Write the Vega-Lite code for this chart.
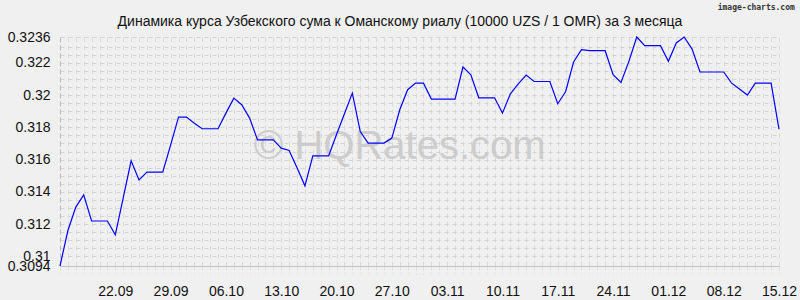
{
  "$schema": "https://vega.github.io/schema/vega-lite/v6.json",
  "autosize": "none",
  "width": 719,
  "height": 229,
  "padding": {"left": 60, "top": 37, "right": 21, "bottom": 34},
  "background": "#f0f0f0",
  "config": {
    "view": {"stroke": null},
    "font": "Liberation Sans"
  },
  "title": {
    "text": "Динамика курса Узбекского сума к Оманскому риалу (10000 UZS / 1 OMR) за 3 месяца",
    "anchor": "middle",
    "frame": "group",
    "baseline": "alphabetic",
    "offset": -36,
    "dx": -19.5,
    "font": "Liberation Sans",
    "fontSize": 14,
    "fontWeight": "normal",
    "color": "#111"
  },
  "resolve": {"axis": {"x": "independent", "y": "independent"}},
  "layer": [
    {
      "data": {"values": [{"label": "© HQRates.com"}]},
      "mark": {"type": "text", "font": "Liberation Sans", "fontSize": 40, "color": "#c8c8c8", "opacity": 0.85, "align": "center", "baseline": "middle"},
      "encoding": {
        "text": {"field": "label"},
        "x": {"datum": {"year": 2025, "month": 10, "date": 28, "utc": true}, "type": "temporal", "scale": {"type": "utc", "domain": [{"year": 2025, "month": 9, "date": 15, "utc": true}, {"year": 2025, "month": 12, "date": 15, "utc": true}]}, "axis": null},
        "y": {"datum": 0.3168, "type": "quantitative", "scale": {"domain": [0.3094, 0.3236], "nice": false, "zero": false}, "axis": null}
      }
    },
    {
      "data": {"values": [{"label": "image-charts.com"}]},
      "mark": {"type": "text", "font": "DejaVu Sans Mono", "fontSize": 8, "fontWeight": "bold", "color": "#333", "align": "right", "baseline": "middle"},
      "encoding": {
        "text": {"field": "label"},
        "x": {"datum": {"year": 2025, "month": 12, "date": 17, "utc": true}, "type": "temporal", "scale": {"type": "utc", "domain": [{"year": 2025, "month": 9, "date": 15, "utc": true}, {"year": 2025, "month": 12, "date": 15, "utc": true}]}, "axis": null},
        "y": {"datum": 0.32542, "type": "quantitative", "scale": {"domain": [0.3094, 0.3236], "nice": false, "zero": false}, "axis": null}
      }
    },
    {
      "data": {"values": [
        {"date": "2025-09-15", "rate": 0.3094},
        {"date": "2025-09-16", "rate": 0.3116},
        {"date": "2025-09-17", "rate": 0.31305},
        {"date": "2025-09-18", "rate": 0.31381},
        {"date": "2025-09-19", "rate": 0.31219},
        {"date": "2025-09-20", "rate": 0.31219},
        {"date": "2025-09-21", "rate": 0.31219},
        {"date": "2025-09-22", "rate": 0.31133},
        {"date": "2025-09-23", "rate": 0.31362},
        {"date": "2025-09-24", "rate": 0.31592},
        {"date": "2025-09-25", "rate": 0.31474},
        {"date": "2025-09-26", "rate": 0.31522},
        {"date": "2025-09-27", "rate": 0.31522},
        {"date": "2025-09-28", "rate": 0.31522},
        {"date": "2025-09-29", "rate": 0.3169},
        {"date": "2025-09-30", "rate": 0.31863},
        {"date": "2025-10-01", "rate": 0.31863},
        {"date": "2025-10-02", "rate": 0.31825},
        {"date": "2025-10-03", "rate": 0.31791},
        {"date": "2025-10-04", "rate": 0.31791},
        {"date": "2025-10-05", "rate": 0.31791},
        {"date": "2025-10-06", "rate": 0.31888},
        {"date": "2025-10-07", "rate": 0.31981},
        {"date": "2025-10-08", "rate": 0.3194},
        {"date": "2025-10-09", "rate": 0.31857},
        {"date": "2025-10-10", "rate": 0.31722},
        {"date": "2025-10-11", "rate": 0.31722},
        {"date": "2025-10-12", "rate": 0.31722},
        {"date": "2025-10-13", "rate": 0.31671},
        {"date": "2025-10-14", "rate": 0.31656},
        {"date": "2025-10-15", "rate": 0.31549},
        {"date": "2025-10-16", "rate": 0.31437},
        {"date": "2025-10-17", "rate": 0.31623},
        {"date": "2025-10-18", "rate": 0.31623},
        {"date": "2025-10-19", "rate": 0.31623},
        {"date": "2025-10-20", "rate": 0.31755},
        {"date": "2025-10-21", "rate": 0.31884},
        {"date": "2025-10-22", "rate": 0.32012},
        {"date": "2025-10-23", "rate": 0.31774},
        {"date": "2025-10-24", "rate": 0.31702},
        {"date": "2025-10-25", "rate": 0.31702},
        {"date": "2025-10-26", "rate": 0.31702},
        {"date": "2025-10-27", "rate": 0.31733},
        {"date": "2025-10-28", "rate": 0.31909},
        {"date": "2025-10-29", "rate": 0.32033},
        {"date": "2025-10-30", "rate": 0.32074},
        {"date": "2025-10-31", "rate": 0.32074},
        {"date": "2025-11-01", "rate": 0.31975},
        {"date": "2025-11-02", "rate": 0.31975},
        {"date": "2025-11-03", "rate": 0.31975},
        {"date": "2025-11-04", "rate": 0.31975},
        {"date": "2025-11-05", "rate": 0.32174},
        {"date": "2025-11-06", "rate": 0.32126},
        {"date": "2025-11-07", "rate": 0.31983},
        {"date": "2025-11-08", "rate": 0.31983},
        {"date": "2025-11-09", "rate": 0.31983},
        {"date": "2025-11-10", "rate": 0.31888},
        {"date": "2025-11-11", "rate": 0.32008},
        {"date": "2025-11-12", "rate": 0.3207},
        {"date": "2025-11-13", "rate": 0.32124},
        {"date": "2025-11-14", "rate": 0.32084},
        {"date": "2025-11-15", "rate": 0.32084},
        {"date": "2025-11-16", "rate": 0.32084},
        {"date": "2025-11-17", "rate": 0.31946},
        {"date": "2025-11-18", "rate": 0.32022},
        {"date": "2025-11-19", "rate": 0.32205},
        {"date": "2025-11-20", "rate": 0.32281},
        {"date": "2025-11-21", "rate": 0.32275},
        {"date": "2025-11-22", "rate": 0.32275},
        {"date": "2025-11-23", "rate": 0.32275},
        {"date": "2025-11-24", "rate": 0.32126},
        {"date": "2025-11-25", "rate": 0.32078},
        {"date": "2025-11-26", "rate": 0.32209},
        {"date": "2025-11-27", "rate": 0.3236},
        {"date": "2025-11-28", "rate": 0.32306},
        {"date": "2025-11-29", "rate": 0.32306},
        {"date": "2025-11-30", "rate": 0.32306},
        {"date": "2025-12-01", "rate": 0.32209},
        {"date": "2025-12-02", "rate": 0.32323},
        {"date": "2025-12-03", "rate": 0.3236},
        {"date": "2025-12-04", "rate": 0.32285},
        {"date": "2025-12-05", "rate": 0.32143},
        {"date": "2025-12-06", "rate": 0.32143},
        {"date": "2025-12-07", "rate": 0.32143},
        {"date": "2025-12-08", "rate": 0.32143},
        {"date": "2025-12-09", "rate": 0.32074},
        {"date": "2025-12-10", "rate": 0.32037},
        {"date": "2025-12-11", "rate": 0.32},
        {"date": "2025-12-12", "rate": 0.32074},
        {"date": "2025-12-13", "rate": 0.32074},
        {"date": "2025-12-14", "rate": 0.32074},
        {"date": "2025-12-15", "rate": 0.31789}
      ]},
      "mark": {"type": "line", "color": "#0000ff", "strokeWidth": 1.2, "interpolate": "linear"},
      "encoding": {
        "x": {
          "field": "date", "type": "temporal",
          "scale": {"type": "utc", "domain": [{"year": 2025, "month": 9, "date": 15, "utc": true}, {"year": 2025, "month": 12, "date": 15, "utc": true}]},
          "axis": {
            "title": null,
            "orient": "bottom",
            "tickCount": {"interval": "day", "step": 1},
            "labelExpr": "(utcday(datum.value) == 1 && datum.value > 1757980800000) ? utcFormat(datum.value, '%d.%m') : ''",
            "labelOverlap": false,
            "labelBound": false,
            "labelFlush": false,
            "labelFont": "Liberation Sans",
            "labelFontSize": 14,
            "labelColor": "#111",
            "labelPadding": 10,
            "ticks": true,
            "tickSize": 8,
            "tickColor": "#e0e0e0",
            "tickDash": [4, 3],
            "domain": true,
            "domainColor": "#c4c4c4",
            "domainWidth": 1,
            "grid": true,
            "gridColor": "#dadada",
            "gridDash": [5, 3],
            "gridWidth": 1
          }
        },
        "y": {
          "field": "rate", "type": "quantitative",
          "scale": {"domain": [0.3094, 0.3236], "nice": false, "zero": false},
          "axis": {
            "title": null,
            "orient": "left",
            "values": [0.3094, 0.31, 0.3105, 0.311, 0.3115, 0.312, 0.3125, 0.313, 0.3135, 0.314, 0.3145, 0.315, 0.3155, 0.316, 0.3165, 0.317, 0.3175, 0.318, 0.3185, 0.319, 0.3195, 0.32, 0.3205, 0.321, 0.3215, 0.322, 0.3225, 0.323, 0.3236],
            "labelExpr": "(datum.value == 0.3094 || datum.value == 0.31 || datum.value == 0.312 || datum.value == 0.314 || datum.value == 0.316 || datum.value == 0.318 || datum.value == 0.32 || datum.value == 0.322 || datum.value == 0.3236) ? '' + datum.value : ''",
            "labelOverlap": false,
            "labelBound": false,
            "labelFlush": false,
            "labelFont": "Liberation Sans",
            "labelFontSize": 14,
            "labelColor": "#111",
            "labelPadding": 10,
            "ticks": false,
            "domain": true,
            "domainColor": "#bdbdbd",
            "domainDash": [5, 3],
            "grid": true,
            "gridColor": "#d4d4d4",
            "gridDash": [4, 4],
            "gridWidth": 1
          }
        }
      }
    }
  ]
}
